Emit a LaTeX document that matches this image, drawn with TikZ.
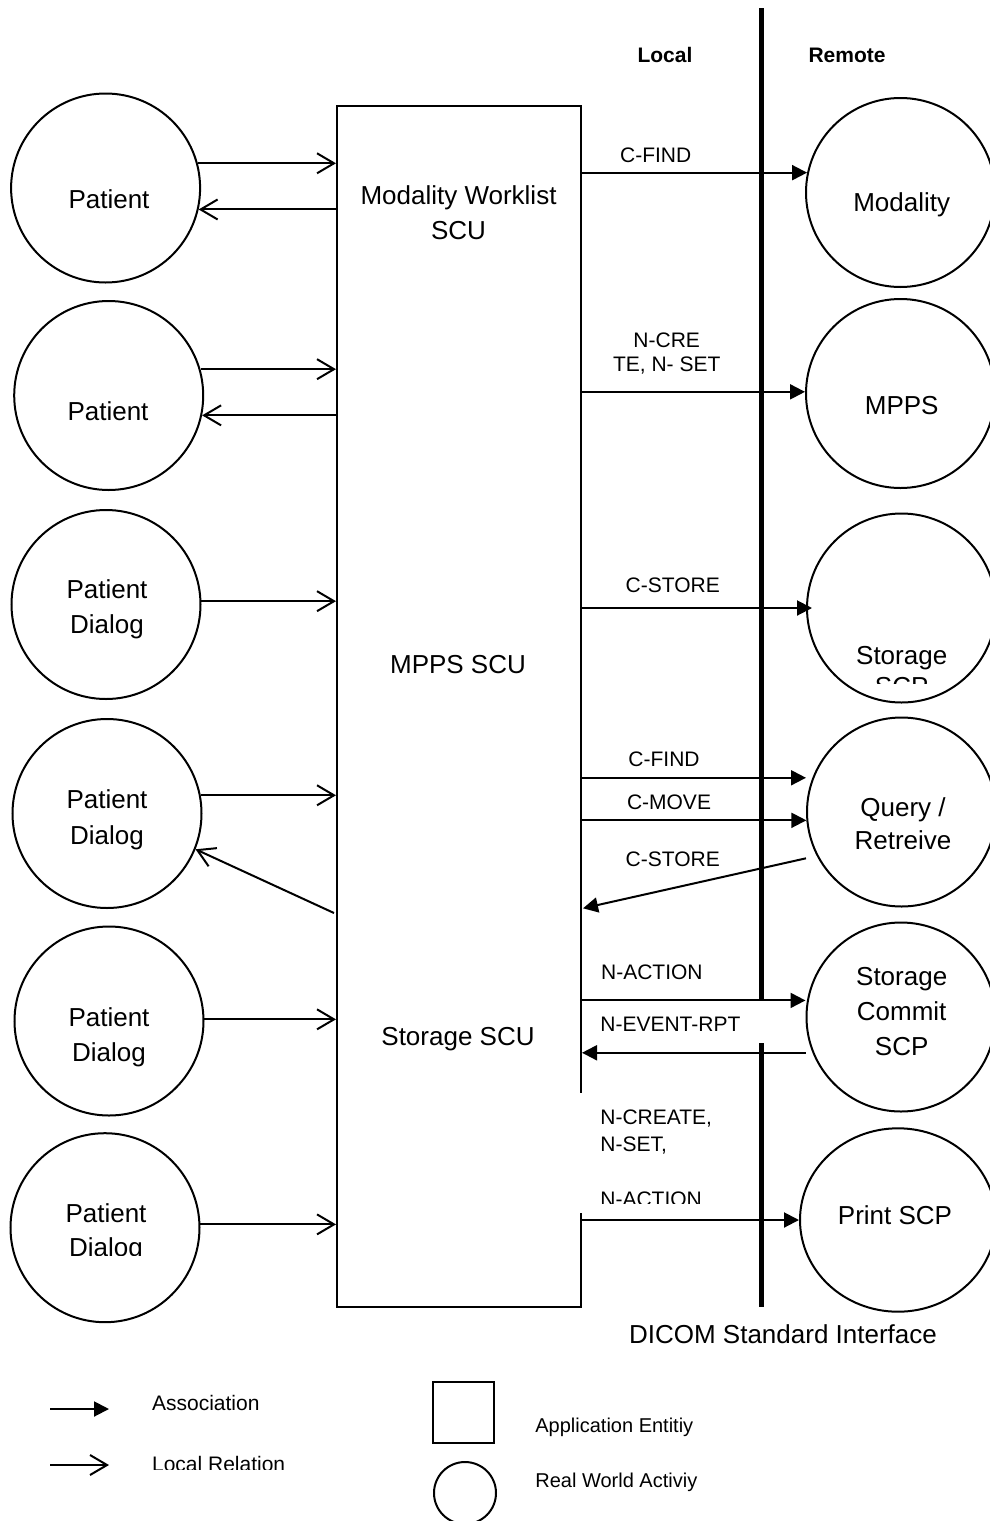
\documentclass[tikz,border=0pt]{standalone}
\usepackage{fontspec}
\setmainfont{Liberation Sans}
\usetikzlibrary{arrows.meta,shapes.geometric}
\newcommand\BigTxt{\fontsize{13pt}{17.5pt}\selectfont}
\newcommand\SmTxt{\fontsize{10.5pt}{12pt}\selectfont}
\newcommand\LgTxt{\fontsize{10pt}{12pt}\selectfont}
\tikzset{
  rwa/.style={draw, circle, line width=1pt, minimum size=94.5pt, inner sep=0pt},
  bigt/.style={font=\BigTxt, inner sep=0pt, anchor=base},
  smt/.style={font=\SmTxt, inner sep=0pt, anchor=base},
  smtl/.style={font=\SmTxt, inner sep=0pt, anchor=base west},
  lgtl/.style={font=\LgTxt, inner sep=0pt, anchor=base west},
  boldt/.style={font=\SmTxt\bfseries, inner sep=0pt, anchor=base},
  assoc/.style={-{Triangle[length=7.5pt,width=7.5pt]}, line width=1pt},
  localrel/.style={-{Straight Barb[length=8.5pt,width=10pt]}, line width=1pt, line join=miter},
  whitebox/.style={fill=white, draw=none, inner sep=0pt, anchor=north west}
}
\begin{document}
\begin{tikzpicture}[x=0.5pt,y=-0.5pt]
\useasboundingbox (0,0) rectangle (990,1521);
\clip (0,0) rectangle (990,1521);

% application entity box
\node[draw, line width=1pt, minimum width=122pt, minimum height=600.5pt, inner sep=0pt] (ae) at (459,706.5) {};

% interface line
\coordinate (ltop) at (761.7,8);
\coordinate (lbot) at (761.7,1307);
\draw[line width=2.5pt] (ltop) -- (lbot);

% white label boxes
\node[whitebox, minimum width=91pt, minimum height=21pt] (evbox) at (582,1001) {};
\node[whitebox, minimum width=86pt, minimum height=60pt] (ncbox) at (578,1093) {};

% local circles
\node[rwa] (p1) at (105.6,188) {};
\node[rwa] (p2) at (108.7,395.5) {};
\node[rwa] (p3) at (106,604.5) {};
\node[rwa] (p4) at (107,813.5) {};
\node[rwa] (p5) at (109,1021) {};
\node[rwa] (p6) at (105,1227.7) {};

% remote circles
\node[rwa] (r1) at (900.5,192.5) {};
\node[rwa] (r2) at (900.5,393.5) {};
\node[rwa] (r3) at (901.5,608) {};
\node[rwa] (r4) at (901.5,812) {};
\node[rwa] (r5) at (901,1017) {};
\node[draw, ellipse, line width=1pt, minimum width=98pt, minimum height=91.7pt, inner sep=0pt] (r6) at (898,1220) {};

% local relations
\draw[localrel] (p1.15) -- (p1.15 -| ae.west);
\draw[localrel] (ae.west |- p1.-13) -- (p1.-13);
\draw[localrel] (p2.16) -- (p2.16 -| ae.west);
\draw[localrel] (ae.west |- p2.-12) -- (p2.-12);
\draw[localrel] (p3.2) -- (p3.2 -| ae.west);
\draw[localrel] (p4.11) -- (p4.11 -| ae.west);
\coordinate (d4) at (334,913);
\draw[localrel] (d4) -- (p4.-22);
\draw[localrel] (p5.1) -- (p5.1 -| ae.west);
\draw[localrel] (p6.2) -- (p6.2 -| ae.west);

% associations
\draw[assoc] (r1.168 -| ae.east) -- (r1.168);
\draw[assoc] (r2.179 -| ae.east) -- (r2.179);
\draw[assoc, shorten >=-3pt] (r3.west -| ae.east) -- (r3.west);
\draw[assoc] (r4.159 -| ae.east) -- (r4.west |- r4.159);
\draw[assoc] (r4.185 -| ae.east) -- (r4.185);
\coordinate (cs) at (583,908.3);
\draw[assoc] (r4.west |- r4.209) -- (cs);
\draw[assoc] (r5.170 -| ae.east) -- (r5.west |- r5.170);
\draw[assoc] (r5.west |- r5.202) -- (r5.202 -| ae.east);
\draw[assoc] (r6.west -| ae.east) -- (r6.west);

% local circle texts
\node[bigt] (p1t) at (109,208.3) {Patient};
\node[bigt] (p2t) at (108,420.3) {Patient};
\node[bigt] (p3a) at (107,598.3) {Patient};
\node[bigt] (p3b) at (107,633.3) {Dialog};
\node[bigt] (p4a) at (107,808.3) {Patient};
\node[bigt] (p4b) at (107,844.3) {Dialog};
\node[bigt] (p5a) at (109,1026.3) {Patient};
\node[bigt] (p5b) at (109,1061.3) {Dialog};
\node[bigt] (p6a) at (106,1222.3) {Patient};
\begin{scope}
\clip (0,1230) rectangle (220,1255);
\node[bigt] (p6b) at (106,1256.3) {Dialog};
\end{scope}

% box texts
\node[bigt] (ae1) at (458.5,204.3) {Modality Worklist};
\node[bigt] (ae2) at (458.5,239.3) {SCU};
\node[bigt] (ae3) at (458,673) {MPPS SCU};
\node[bigt] (ae4) at (458,1045) {Storage SCU};

% remote texts
\node[bigt] (r1t) at (901.7,211) {Modality};
\node[bigt] (r2t) at (901.7,414.3) {MPPS};
\node[bigt] (r3a) at (901.7,664.3) {Storage};
\begin{scope}
\clip (820,670) rectangle (990,683);
\node[bigt] (r3b) at (901.7,695.5) {SCP};
\end{scope}
\node[bigt] (r4a) at (903,816) {Query /};
\begin{scope}
\clip (820,825) rectangle (990,848);
\node[bigt] (r4b) at (903,849.3) {Retreive};
\end{scope}
\node[bigt] (r5a) at (901.7,985) {Storage};
\node[bigt] (r5b) at (901.7,1020.3) {Commit};
\node[bigt] (r5c) at (901.7,1055.3) {SCP};
\node[bigt] (r6t) at (895,1224.3) {Print SCP};
\node[bigt] (dicom) at (783,1343.3) {DICOM Standard Interface};

% headers
\node[boldt] (hloc) at (665,62.5) {Local};
\node[boldt] (hrem) at (847,62.5) {Remote};

% message labels
\node[smt] (m1) at (655.7,162.5) {C-FIND};
\node[smt] (m2a) at (666.7,347.5) {N-CRE};
\node[smt] (m2b) at (666.7,371.5) {TE, N- SET};
\node[smt] (m3) at (672.7,592.5) {C-STORE};
\node[smt] (m4) at (664,766.5) {C-FIND};
\node[smt] (m5) at (669,809.5) {C-MOVE};
\node[smt] (m6) at (672.7,866.5) {C-STORE};
\node[smtl] (m7) at (600.7,979.5) {N-ACTION};
\node[smtl] (m8) at (600,1031.5) {N-EVENT-RPT};
\node[smtl] (m9a) at (600,1124.2) {N-CREATE,};
\node[smtl] (m9b) at (600,1151.5) {N-SET,};
\begin{scope}
\clip (578,1180) rectangle (750,1203);
\node[smtl] (m9c) at (600,1206.5) {N-ACTION};
\end{scope}

% legend
\coordinate (la1) at (50,1409);
\coordinate (la2) at (109,1409);
\coordinate (lb1) at (50,1465);
\coordinate (lb2) at (109,1465);
\draw[assoc] (la1) -- (la2);
\draw[localrel] (lb1) -- (lb2);
\node[smtl] (lga) at (151.7,1410.5) {Association};
\begin{scope}
\clip (140,1440) rectangle (320,1469.5);
\node[smtl] (lgb) at (151.7,1471.5) {Local Relation};
\end{scope}
\node[draw, line width=1pt, minimum width=30.8pt, minimum height=30.35pt, inner sep=0pt] (lsq) at (463.5,1412.4) {};
\node[draw, circle, line width=1pt, minimum size=31pt, inner sep=0pt] (lci) at (465,1493) {};
\node[lgtl] (lgc) at (535,1432) {Application Entitiy};
\node[lgtl] (lgd) at (535,1487) {Real World Activiy};
\end{tikzpicture}
\end{document}
